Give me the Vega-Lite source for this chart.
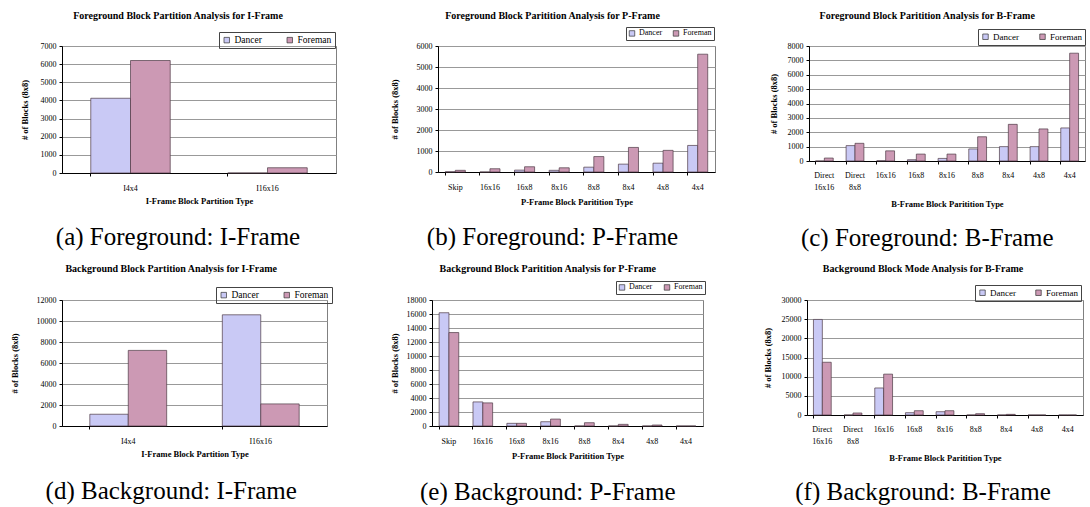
{
  "$schema": "https://vega.github.io/schema/vega-lite/v6.json",
  "padding": {"left": 9, "top": 10, "right": 0, "bottom": 0},
  "background": "white",
  "datasets": {
    "fgI": [
      {"type": "I4x4", "seq": "Dancer", "count": 4120},
      {"type": "I4x4", "seq": "Foreman", "count": 6200},
      {"type": "I16x16", "seq": "Dancer", "count": 0},
      {"type": "I16x16", "seq": "Foreman", "count": 290}
    ],
    "fgP": [
      {"type": "Skip", "seq": "Dancer", "count": 10},
      {"type": "Skip", "seq": "Foreman", "count": 80},
      {"type": "16x16", "seq": "Dancer", "count": 0},
      {"type": "16x16", "seq": "Foreman", "count": 155},
      {"type": "16x8", "seq": "Dancer", "count": 90},
      {"type": "16x8", "seq": "Foreman", "count": 250},
      {"type": "8x16", "seq": "Dancer", "count": 80},
      {"type": "8x16", "seq": "Foreman", "count": 200},
      {"type": "8x8", "seq": "Dancer", "count": 230},
      {"type": "8x8", "seq": "Foreman", "count": 735},
      {"type": "8x4", "seq": "Dancer", "count": 375},
      {"type": "8x4", "seq": "Foreman", "count": 1170},
      {"type": "4x8", "seq": "Dancer", "count": 420},
      {"type": "4x8", "seq": "Foreman", "count": 1030},
      {"type": "4x4", "seq": "Dancer", "count": 1265},
      {"type": "4x4", "seq": "Foreman", "count": 5610}
    ],
    "fgB": [
      {"type": "Direct 16x16", "seq": "Dancer", "count": 0},
      {"type": "Direct 16x16", "seq": "Foreman", "count": 205},
      {"type": "Direct 8x8", "seq": "Dancer", "count": 1070},
      {"type": "Direct 8x8", "seq": "Foreman", "count": 1230},
      {"type": "16x16", "seq": "Dancer", "count": 20},
      {"type": "16x16", "seq": "Foreman", "count": 705},
      {"type": "16x8", "seq": "Dancer", "count": 90},
      {"type": "16x8", "seq": "Foreman", "count": 480},
      {"type": "8x16", "seq": "Dancer", "count": 180},
      {"type": "8x16", "seq": "Foreman", "count": 480},
      {"type": "8x8", "seq": "Dancer", "count": 840},
      {"type": "8x8", "seq": "Foreman", "count": 1685},
      {"type": "8x4", "seq": "Dancer", "count": 1000},
      {"type": "8x4", "seq": "Foreman", "count": 2550},
      {"type": "4x8", "seq": "Dancer", "count": 1000},
      {"type": "4x8", "seq": "Foreman", "count": 2230},
      {"type": "4x4", "seq": "Dancer", "count": 2300},
      {"type": "4x4", "seq": "Foreman", "count": 7500}
    ],
    "bgI": [
      {"type": "I4x4", "seq": "Dancer", "count": 1120},
      {"type": "I4x4", "seq": "Foreman", "count": 7200},
      {"type": "I16x16", "seq": "Dancer", "count": 10590},
      {"type": "I16x16", "seq": "Foreman", "count": 2105}
    ],
    "bgP": [
      {"type": "Skip", "seq": "Dancer", "count": 16180},
      {"type": "Skip", "seq": "Foreman", "count": 13350},
      {"type": "16x16", "seq": "Dancer", "count": 3440},
      {"type": "16x16", "seq": "Foreman", "count": 3300},
      {"type": "16x8", "seq": "Dancer", "count": 380},
      {"type": "16x8", "seq": "Foreman", "count": 380},
      {"type": "8x16", "seq": "Dancer", "count": 610},
      {"type": "8x16", "seq": "Foreman", "count": 990},
      {"type": "8x8", "seq": "Dancer", "count": 0},
      {"type": "8x8", "seq": "Foreman", "count": 470},
      {"type": "8x4", "seq": "Dancer", "count": 0},
      {"type": "8x4", "seq": "Foreman", "count": 235},
      {"type": "4x8", "seq": "Dancer", "count": 0},
      {"type": "4x8", "seq": "Foreman", "count": 140},
      {"type": "4x4", "seq": "Dancer", "count": 0},
      {"type": "4x4", "seq": "Foreman", "count": 0}
    ],
    "bgB": [
      {"type": "Direct 16x16", "seq": "Dancer", "count": 24930},
      {"type": "Direct 16x16", "seq": "Foreman", "count": 13760},
      {"type": "Direct 8x8", "seq": "Dancer", "count": 0},
      {"type": "Direct 8x8", "seq": "Foreman", "count": 520},
      {"type": "16x16", "seq": "Dancer", "count": 7050},
      {"type": "16x16", "seq": "Foreman", "count": 10660},
      {"type": "16x8", "seq": "Dancer", "count": 600},
      {"type": "16x8", "seq": "Foreman", "count": 1120},
      {"type": "8x16", "seq": "Dancer", "count": 860},
      {"type": "8x16", "seq": "Foreman", "count": 1120},
      {"type": "8x8", "seq": "Dancer", "count": 0},
      {"type": "8x8", "seq": "Foreman", "count": 340},
      {"type": "8x4", "seq": "Dancer", "count": 0},
      {"type": "8x4", "seq": "Foreman", "count": 170},
      {"type": "4x8", "seq": "Dancer", "count": 0},
      {"type": "4x8", "seq": "Foreman", "count": 0},
      {"type": "4x4", "seq": "Dancer", "count": 0},
      {"type": "4x4", "seq": "Foreman", "count": 0}
    ]
  },
  "columns": 3,
  "align": "none",
  "spacing": {"row": 12, "column": 52},
  "resolve": {"scale": {"color": "independent", "xOffset": "independent"}, "legend": {"color": "independent"}},
  "concat": [
    {
      "title": {"text": "(a) Foreground: I-Frame", "orient": "bottom", "fontSize": 25, "fontWeight": "normal", "font": "Liberation Serif", "anchor": "middle", "offset": 20},
      "resolve": {"scale": {"color": "independent", "xOffset": "independent"}, "legend": {"color": "independent"}},
      "vconcat": [
        {
          "width": 274, "height": 127,
          "data": {"name": "fgI"},
          "title": {"text": "Foreground Block Partition Analysis for I-Frame", "offset": 11},
          "mark": {"type": "bar", "stroke": "#4d3a45", "strokeWidth": 0.7},
          "encoding": {
            "x": {"field": "type", "type": "nominal", "sort": null, "scale": {"paddingInner": 0.42, "paddingOuter": 0.21}, "axis": {"title": "I-Frame Block Partition Type", "labelPadding": 8, "titlePadding": 4}},
            "xOffset": {"field": "seq", "type": "nominal", "sort": ["Dancer", "Foreman"]},
            "y": {"field": "count", "type": "quantitative", "scale": {"domain": [0, 7000]}, "axis": {"values": [0, 1000, 2000, 3000, 4000, 5000, 6000, 7000], "format": "d", "title": "# of Blocks (8x8)", "titlePadding": 11}},
            "color": {"field": "seq", "type": "nominal", "scale": {"domain": ["Dancer", "Foreman"], "range": ["#c9c9f5", "#cc99b4"]}, "legend": {"legendX": 157, "legendY": -14, "columnPadding": 23, "labelFontSize": 9.5}}
          }
        }
      ]
    },
    {
      "title": {"text": "(b) Foreground: P-Frame", "orient": "bottom", "fontSize": 25, "fontWeight": "normal", "font": "Liberation Serif", "anchor": "middle", "offset": 19},
      "resolve": {"scale": {"color": "independent", "xOffset": "independent"}, "legend": {"color": "independent"}},
      "vconcat": [
        {
          "width": 277, "height": 126,
          "data": {"name": "fgP"},
          "title": {"text": "Foreground Block Paritition Analysis for P-Frame", "offset": 6},
          "mark": {"type": "bar", "stroke": "#4d3a45", "strokeWidth": 0.7},
          "encoding": {
            "x": {"field": "type", "type": "nominal", "sort": null, "scale": {"paddingInner": 0.42, "paddingOuter": 0.21}, "axis": {"title": "P-Frame Block Paritition Type", "labelPadding": 8, "titlePadding": 6}},
            "xOffset": {"field": "seq", "type": "nominal", "sort": ["Dancer", "Foreman"]},
            "y": {"field": "count", "type": "quantitative", "scale": {"domain": [0, 6000]}, "axis": {"values": [0, 1000, 2000, 3000, 4000, 5000, 6000], "format": "d", "title": "# of Blocks (8x8)", "titlePadding": 17}},
            "color": {"field": "seq", "type": "nominal", "scale": {"domain": ["Dancer", "Foreman"], "range": ["#c9c9f5", "#cc99b4"]}, "legend": {"legendX": 188, "legendY": -19, "columnPadding": 8, "labelFontSize": 8, "padding": 2}}
          }
        }
      ]
    },
    {
      "title": {"text": "(c) Foreground: B-Frame", "orient": "bottom", "fontSize": 25, "fontWeight": "normal", "font": "Liberation Serif", "anchor": "middle", "offset": 18},
      "resolve": {"scale": {"color": "independent", "xOffset": "independent"}, "legend": {"color": "independent"}},
      "vconcat": [
        {
          "width": 276, "height": 115,
          "data": {"name": "fgB"},
          "title": {"text": "Foreground Block Paritition Analysis for B-Frame", "offset": 8},
          "mark": {"type": "bar", "stroke": "#4d3a45", "strokeWidth": 0.7},
          "encoding": {
            "x": {"field": "type", "type": "nominal", "sort": null, "scale": {"paddingInner": 0.42, "paddingOuter": 0.21}, "axis": {"title": "B-Frame Block Paritition Type", "labelPadding": 7, "titlePadding": 8, "labelExpr": "split(datum.label, ' ')", "labelLineHeight": 12}},
            "xOffset": {"field": "seq", "type": "nominal", "sort": ["Dancer", "Foreman"]},
            "y": {"field": "count", "type": "quantitative", "scale": {"domain": [0, 8000]}, "axis": {"values": [0, 1000, 2000, 3000, 4000, 5000, 6000, 7000, 8000], "format": "d", "title": "# of Blocks (8x8)", "titlePadding": 9}},
            "color": {"field": "seq", "type": "nominal", "scale": {"domain": ["Dancer", "Foreman"], "range": ["#c9c9f5", "#cc99b4"]}, "legend": {"legendX": 169, "legendY": -17, "columnPadding": 19}}
          }
        }
      ]
    },
    {
      "title": {"text": "(d) Background: I-Frame", "orient": "bottom", "fontSize": 25, "fontWeight": "normal", "font": "Liberation Serif", "anchor": "middle", "offset": 21},
      "resolve": {"scale": {"color": "independent", "xOffset": "independent"}, "legend": {"color": "independent"}},
      "vconcat": [
        {
          "width": 265, "height": 126,
          "data": {"name": "bgI"},
          "title": {"text": "Background Block Partition Analysis for I-Frame", "offset": 13},
          "mark": {"type": "bar", "stroke": "#4d3a45", "strokeWidth": 0.7},
          "encoding": {
            "x": {"field": "type", "type": "nominal", "sort": null, "scale": {"paddingInner": 0.42, "paddingOuter": 0.21}, "axis": {"title": "I-Frame Block Partition Type", "labelPadding": 8, "titlePadding": 4}},
            "xOffset": {"field": "seq", "type": "nominal", "sort": ["Dancer", "Foreman"]},
            "y": {"field": "count", "type": "quantitative", "scale": {"domain": [0, 12000]}, "axis": {"values": [0, 2000, 4000, 6000, 8000, 10000, 12000], "format": "d", "title": "# of Blocks (8x8)", "titlePadding": 17}},
            "color": {"field": "seq", "type": "nominal", "scale": {"domain": ["Dancer", "Foreman"], "range": ["#c9c9f5", "#cc99b4"]}, "legend": {"legendX": 154, "legendY": -13, "columnPadding": 23, "labelFontSize": 9.5}}
          }
        }
      ]
    },
    {
      "title": {"text": "(e) Background: P-Frame", "orient": "bottom", "fontSize": 25, "fontWeight": "normal", "font": "Liberation Serif", "anchor": "middle", "offset": 20},
      "resolve": {"scale": {"color": "independent", "xOffset": "independent"}, "legend": {"color": "independent"}},
      "vconcat": [
        {
          "width": 271, "height": 126,
          "data": {"name": "bgP"},
          "title": {"text": "Background Block Paritition Analysis for P-Frame", "offset": 7},
          "mark": {"type": "bar", "stroke": "#4d3a45", "strokeWidth": 0.7},
          "encoding": {
            "x": {"field": "type", "type": "nominal", "sort": null, "scale": {"paddingInner": 0.42, "paddingOuter": 0.21}, "axis": {"title": "P-Frame Block Paritition Type", "labelPadding": 8, "titlePadding": 6}},
            "xOffset": {"field": "seq", "type": "nominal", "sort": ["Dancer", "Foreman"]},
            "y": {"field": "count", "type": "quantitative", "scale": {"domain": [0, 18000]}, "axis": {"values": [0, 2000, 4000, 6000, 8000, 10000, 12000, 14000, 16000, 18000], "format": "d", "title": "# of Blocks (8x8)", "titlePadding": 7}},
            "color": {"field": "seq", "type": "nominal", "scale": {"domain": ["Dancer", "Foreman"], "range": ["#c9c9f5", "#cc99b4"]}, "legend": {"legendX": 184, "legendY": -19, "columnPadding": 9, "labelFontSize": 8, "padding": 2}}
          }
        }
      ]
    },
    {
      "title": {"text": "(f) Background: B-Frame", "orient": "bottom", "fontSize": 25, "fontWeight": "normal", "font": "Liberation Serif", "anchor": "middle", "offset": 18},
      "resolve": {"scale": {"color": "independent", "xOffset": "independent"}, "legend": {"color": "independent"}},
      "vconcat": [
        {
          "width": 276, "height": 115,
          "data": {"name": "bgB"},
          "title": {"text": "Background Block Mode Analysis for B-Frame", "offset": 11},
          "mark": {"type": "bar", "stroke": "#4d3a45", "strokeWidth": 0.7},
          "encoding": {
            "x": {"field": "type", "type": "nominal", "sort": null, "scale": {"paddingInner": 0.42, "paddingOuter": 0.21}, "axis": {"title": "B-Frame Block Paritition Type", "labelPadding": 7, "titlePadding": 8, "labelExpr": "split(datum.label, ' ')", "labelLineHeight": 12}},
            "xOffset": {"field": "seq", "type": "nominal", "sort": ["Dancer", "Foreman"]},
            "y": {"field": "count", "type": "quantitative", "scale": {"domain": [0, 30000]}, "axis": {"values": [0, 5000, 10000, 15000, 20000, 25000, 30000], "format": "d", "title": "# of Blocks (8x8)", "titlePadding": 9}},
            "color": {"field": "seq", "type": "nominal", "scale": {"domain": ["Dancer", "Foreman"], "range": ["#c9c9f5", "#cc99b4"]}, "legend": {"legendX": 168, "legendY": -15, "columnPadding": 18}}
          }
        }
      ]
    }
  ],
  "config": {
    "font": "Liberation Serif",
    "view": {"stroke": "#808080", "strokeWidth": 1},
    "axis": {"labelFont": "Liberation Serif", "labelFontSize": 8, "labelColor": "#000", "titleFont": "Liberation Serif", "titleFontWeight": "bold", "titleFontSize": 8.5, "titleColor": "#000", "domainColor": "#000", "tickColor": "#000", "tickSize": 3, "gridColor": "#999", "labelPadding": 3},
    "axisX": {"grid": false, "labelAngle": 0, "bandPosition": 0, "labelBaseline": "top"},
    "axisY": {"grid": true},
    "legend": {"orient": "none", "direction": "horizontal", "title": null, "strokeColor": "#444", "padding": 3, "symbolType": "square", "symbolSize": 30, "symbolStrokeColor": "#333", "symbolStrokeWidth": 0.7, "labelFont": "Liberation Serif", "labelFontSize": 9, "labelOffset": 3},
    "title": {"font": "Liberation Serif", "fontSize": 10, "fontWeight": "bold", "color": "#000", "anchor": "middle", "frame": "bounds"}
  }
}
